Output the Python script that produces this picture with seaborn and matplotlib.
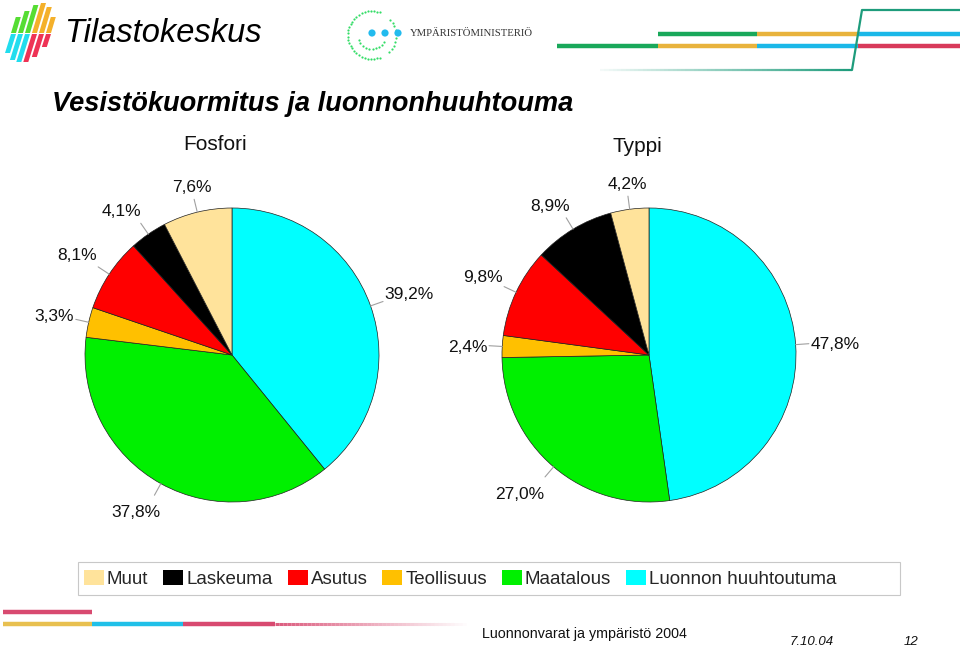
import numpy as np
import matplotlib
matplotlib.use("Agg")
import matplotlib.pyplot as plt
import seaborn as sns
from matplotlib.patches import Polygon, Patch, Circle, Rectangle
from matplotlib.collections import LineCollection

# ---------------- data ----------------
categories = ["Luonnon huuhtoutuma", "Maatalous", "Teollisuus", "Asutus", "Laskeuma", "Muut"]
fosfori = [39.2, 37.8, 3.3, 8.1, 4.1, 7.6]
typpi = [47.8, 27.0, 2.4, 9.8, 8.9, 4.2]
legend_order = ["Muut", "Laskeuma", "Asutus", "Teollisuus", "Maatalous", "Luonnon huuhtoutuma"]
pie_titles = ["Fosfori", "Typpi"]
main_title = "Vesistökuormitus ja luonnonhuuhtouma"
footer_text = "Luonnonvarat ja ympäristö 2004"
footer_date = "7.10.04"
footer_page = "12"

colors = {
    "Luonnon huuhtoutuma": "#00FFFF",
    "Maatalous": "#00F000",
    "Teollisuus": "#FFC000",
    "Asutus": "#FF0000",
    "Laskeuma": "#000000",
    "Muut": "#FFE39B",
}

sns.set_theme(style="white")
plt.rcParams['font.family'] = ['Liberation Sans', 'DejaVu Sans']

W, H = 960, 649
fig = plt.figure(figsize=(W / 100, H / 100), dpi=100)
ax = fig.add_axes([0, 0, 1, 1])
ax.set_xlim(0, W)
ax.set_ylim(0, H)
ax.set_aspect("equal", adjustable="box")


def Y(y):
    return H - y


# ---------------- pies ----------------
pie_specs = [(fosfori, 232, 355, 215, 145), (typpi, 649, 355, 637, 147)]
R = 147
labels_to_place = []
for (vals, cx, cy, tx, ty), ttl in zip(pie_specs, pie_titles):
    wedges, _ = ax.pie(vals, colors=[colors[c] for c in categories], startangle=90,
                       counterclock=False, center=(cx, Y(cy)), radius=R, frame=True,
                       wedgeprops=dict(edgecolor="#202020", linewidth=0.5))
    for w, v in zip(wedges, vals):
        a = np.deg2rad((w.theta1 + w.theta2) / 2)
        ca, sa = np.cos(a), np.sin(a)
        p0 = (cx + R * ca, Y(cy) + R * sa)
        p1 = (cx + R * 1.09 * ca, Y(cy) + R * 1.09 * sa)
        pt = (cx + R * 1.1 * ca, Y(cy) + R * 1.1 * sa)
        ax.plot([p0[0], p1[0]], [p0[1], p1[1]], color="#a0a0a0", lw=0.8)
        t = ax.text(pt[0], pt[1], f"{v:.1f}%".replace(".", ","), ha="center", va="center",
                    fontsize=12.5, color="#111111")
        labels_to_place.append((t, pt, ca, sa))
    ax.text(tx, Y(ty), ttl, ha="center", va="center", fontsize=15, color="#111111")

# ---------------- title ----------------
ax.text(52, Y(104), main_title, ha="left", va="center", fontsize=19.6,
        fontweight="bold", fontstyle="italic", color="#000000")

# ---------------- Tilastokeskus logo ----------------
top_h = [16, 22, 28, 30, 26, 16]
bot_h = [20, 27, 29, 29, 24, 14]
for i in range(6):
    x0 = 11 + i * 7
    sl = 0.3
    mid = 33
    ctop = "#55DD33" if i < 3 else "#F4B02A"
    cbot = "#22DDEE" if i < 3 else "#EE3355"
    yt = mid - top_h[i]
    ax.add_patch(Polygon([(x0, Y(mid)), (x0 + 5, Y(mid)),
                          (x0 + 5 + sl * top_h[i], Y(yt)), (x0 + sl * top_h[i], Y(yt))],
                         closed=True, color=ctop, lw=0))
    yb = mid + bot_h[i]
    ax.add_patch(Polygon([(x0 - sl * bot_h[i], Y(yb)), (x0 + 5 - sl * bot_h[i], Y(yb)),
                          (x0 + 5, Y(mid + 1)), (x0, Y(mid + 1))],
                         closed=True, color=cbot, lw=0))
ax.text(64, Y(33), "Tilastokeskus", ha="left", va="center", fontsize=23.5,
        fontstyle="italic", color="#000000")

# ---------------- Ympäristöministeriö logo ----------------
lc = "#33DD66"
for r, a0, a1, n in [(24, 70, 290, 30), (14, 200, 330, 10), (24, -45, 40, 10)]:
    ang = np.deg2rad(np.linspace(a0, a1, n))
    ax.scatter(372 + r * np.cos(ang), Y(35) + r * np.sin(ang), s=2.5, color=lc, lw=0)
for dx in [372, 385, 398]:
    ax.add_patch(Circle((dx, Y(33)), 3.6, color="#22BBEE", lw=0))
ax.text(410, Y(33), "YMPÄRISTÖMINISTERIÖ", ha="left", va="center", fontsize=7.7,
        family=["Liberation Serif", "DejaVu Serif"], color="#333333")

# ---------------- header decorative lines ----------------
g, o, c, rr = "#19A85A", "#E8B33C", "#1AB8E8", "#D83A5A"
for x0, x1, col in [(658, 757, g), (757, 858, o), (858, 960, c)]:
    ax.plot([x0, x1], [Y(34), Y(34)], color=col, lw=3.2, solid_capstyle="butt")
for x0, x1, col in [(557, 658, g), (658, 757, o), (757, 858, c), (858, 960, rr)]:
    ax.plot([x0, x1], [Y(46), Y(46)], color=col, lw=3.2, solid_capstyle="butt")
teal = np.array(matplotlib.colors.to_rgb("#1E9C7C"))
xs = np.linspace(600, 852, 60)
segs = [[(xs[i], Y(70)), (xs[i + 1], Y(70))] for i in range(len(xs) - 1)]
alph = np.linspace(0.05, 1, len(segs))
ax.add_collection(LineCollection(segs, colors=[(*teal, a) for a in alph], lw=1.6))
ax.plot([852, 862, 960], [Y(70), Y(10), Y(10)], color="#1E9C7C", lw=1.6)

# ---------------- footer decorative lines ----------------
pk, yl, cy2 = "#D84A70", "#E8C050", "#20C0E8"
ax.plot([3, 92], [Y(612), Y(612)], color=pk, lw=3.2, solid_capstyle="butt")
for x0, x1, col in [(3, 92, yl), (92, 183, cy2), (183, 275, pk)]:
    ax.plot([x0, x1], [Y(624), Y(624)], color=col, lw=3.2, solid_capstyle="butt")
pkc = np.array(matplotlib.colors.to_rgb(pk))
xs = np.linspace(275, 470, 50)
segs = [[(xs[i], Y(624)), (xs[i + 1], Y(624))] for i in range(len(xs) - 1)]
alph = np.linspace(0.9, 0.0, len(segs))
ax.add_collection(LineCollection(segs, colors=[(*pkc, a) for a in alph], lw=2.2))

ax.text(482, Y(634), footer_text, ha="left", va="center", fontsize=10.3, color="#111111")
ax.text(790, Y(642), footer_date, ha="left", va="center", fontsize=9.5,
        fontstyle="italic", color="#111111")
ax.text(904, Y(642), footer_page, ha="left", va="center", fontsize=9.5,
        fontstyle="italic", color="#111111")

# ---------------- legend ----------------
ax.add_patch(Rectangle((78, Y(595)), 822, 33, fill=False, edgecolor="#C8C8C8", lw=0.8))
handles = [Patch(facecolor=colors[k], edgecolor="none") for k in legend_order]
leg = fig.legend(handles, legend_order, loc="center left", bbox_to_anchor=(71 / W, 1 - 579 / H),
                 ncol=6, frameon=False, handlelength=1.07, handleheight=0.8,
                 handletextpad=0.15, columnspacing=0.8, borderpad=0.2, fontsize=13.5)

# ---------------- place pie labels outside the leader lines ----------------
fig.canvas.draw()
rend = fig.canvas.get_renderer()
for t, pt, ca, sa in labels_to_place:
    bb = t.get_window_extent(rend)
    w = bb.width
    fx = np.sign(ca) * np.clip((abs(ca) - 0.2) * 2.5, 0, 1)
    fy = np.clip(sa * 2, -1, 1)
    t.set_position((pt[0] + w / 2 * fx, pt[1] + 13.5 * fy - 3))

ax.set_xlim(0, W)
ax.set_ylim(0, H)
ax.axis("off")
fig.savefig("out.png", dpi=100)
